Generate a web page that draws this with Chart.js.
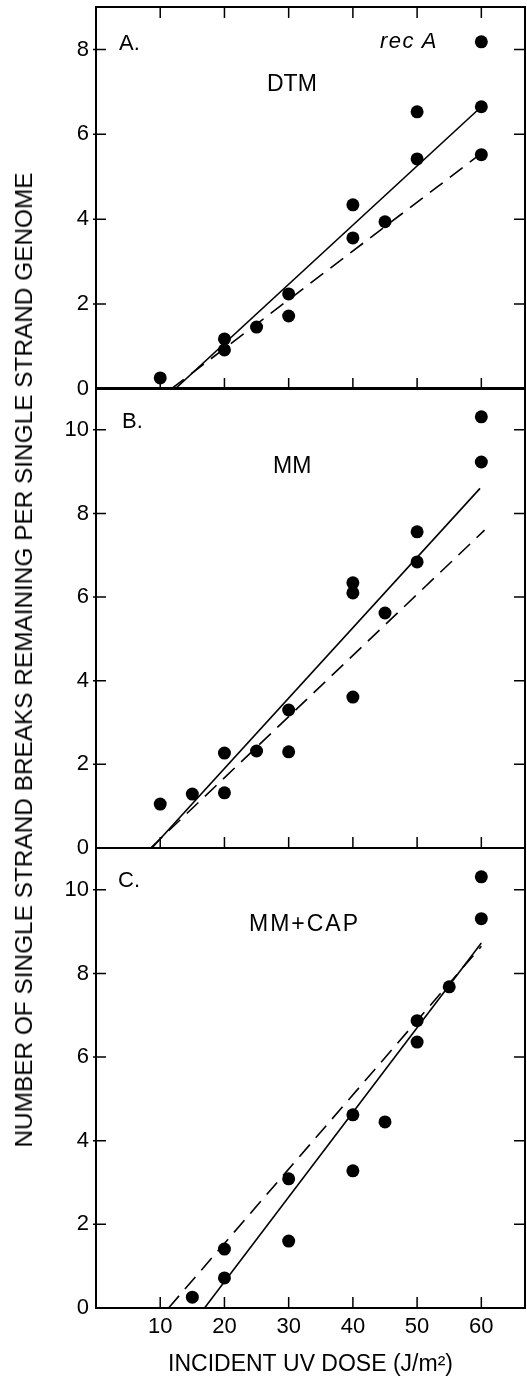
<!DOCTYPE html>
<html><head><meta charset="utf-8">
<script src="https://cdn.jsdelivr.net/npm/chart.js@4.4.0/dist/chart.umd.min.js"></script>
<style>
html,body{margin:0;padding:0;background:#fff;width:527px;height:1378px;overflow:hidden;position:relative;}
canvas{position:absolute;left:0;}
.lbl{position:absolute;font-family:"Liberation Sans",Arial,sans-serif;color:#000;white-space:nowrap;line-height:1;z-index:5;}
</style></head><body>
<canvas id="cA" width="527" height="410" style="top:0px"></canvas>
<canvas id="cB" width="527" height="500" style="top:370px"></canvas>
<canvas id="cC" width="527" height="548" style="top:830px"></canvas>
<div class="lbl" style="left:119px;top:32px;font-size:22px">A.</div>
<div class="lbl" style="left:380px;top:30px;font-size:22px;font-style:italic;letter-spacing:1.5px">rec A</div>
<div class="lbl" style="left:267px;top:72px;font-size:23px">DTM</div>
<div class="lbl" style="left:122px;top:410px;font-size:22px">B.</div>
<div class="lbl" style="left:273px;top:454px;font-size:23px">MM</div>
<div class="lbl" style="left:118px;top:869px;font-size:22px">C.</div>
<div class="lbl" style="left:249px;top:912px;font-size:23px;letter-spacing:2px">MM+CAP</div>
<div class="lbl" id="ytitle" style="font-size:24px">NUMBER OF SINGLE STRAND BREAKS REMAINING PER SINGLE STRAND GENOME</div>
<script>
// ---- data ----
const xTicks = [10, 20, 30, 40, 50, 60];
const yTicksA = [0, 2, 4, 6, 8];
const yTicksBC = [0, 2, 4, 6, 8, 10];

const doseA   = [10, 20, 20, 25, 30, 30, 40, 40, 45, 50, 50, 60, 60, 60];
const breaksA = [0.26, 0.92, 1.18, 1.46, 1.72, 2.24, 3.56, 4.34, 3.94, 5.42, 6.53, 5.52, 6.65, 8.18];
const solidAx = [12.3, 60], solidAy = [0, 6.65];
const dashAx  = [11.7, 60], dashAy  = [0, 5.55];

const doseB   = [10, 15, 20, 20, 25, 30, 30, 40, 40, 40, 45, 50, 50, 60, 60];
const breaksB = [1.05, 1.29, 1.32, 2.27, 2.32, 2.30, 3.30, 3.61, 6.10, 6.34, 5.62, 6.84, 7.56, 9.23, 10.31];
const solidBx = [8.7, 59.8], solidBy = [0, 8.6];
const dashBx  = [8.5, 60.5], dashBy  = [0, 7.6];

const doseC   = [15, 20, 20, 30, 30, 40, 40, 45, 50, 50, 55, 60, 60];
const breaksC = [0.26, 0.72, 1.41, 1.60, 3.09, 3.28, 4.62, 4.45, 6.36, 6.87, 7.68, 9.31, 10.31];
const solidCx = [16.9, 60], solidCy = [0, 8.73];
const dashCx  = [11.3, 60], dashCy  = [0, 8.65];

const xTitle = 'INCIDENT UV DOSE (J/m\u00B2)';

// ---- helpers ----
const FONT = '"Liberation Sans", Arial, sans-serif';
Chart.defaults.font.family = FONT;
Chart.defaults.color = '#000';
const pts = (xs, ys) => xs.map((v, i) => ({x: v, y: ys[i]}));
const noPad = s => { s.paddingTop = 0; s.paddingBottom = 0; s.paddingLeft = 0; s.paddingRight = 0; };

const framePlugin = {
  id: 'frame',
  afterDatasetsDraw(chart, args, opts) {
    const {ctx, chartArea: a, scales: {x, y}} = chart;
    ctx.save();
    ctx.strokeStyle = '#000';
    ctx.lineWidth = 2;
    ctx.strokeRect(a.left, a.top, a.right - a.left, a.bottom - a.top);
    ctx.lineWidth = 1.5;
    ctx.beginPath();
    for (const v of opts.yTicks) {
      if (v === 0) continue;
      const py = y.getPixelForValue(v);
      ctx.moveTo(a.left - 3, py); ctx.lineTo(a.left + 10, py);
      ctx.moveTo(a.right - 11, py); ctx.lineTo(a.right, py);
    }
    for (const v of xTicks) {
      const px = x.getPixelForValue(v);
      ctx.moveTo(px, a.bottom); ctx.lineTo(px, a.bottom - 11);
      if (opts.top) { ctx.moveTo(px, a.top); ctx.lineTo(px, a.top + 11); }
    }
    ctx.stroke();
    ctx.restore();
  }
};

function makePanel(id, dose, breaks, sx, sy, dx, dy, yMax, yTicks, opt) {
  const xAxis = {
    type: 'linear', min: 0, max: 66.8,
    display: !!opt.showX,
    grid: {display: false, drawTicks: false},
    border: {display: false},
    afterBuildTicks: s => { s.ticks = xTicks.map(v => ({value: v})); },
    ticks: {font: {size: 22}, padding: 6, maxRotation: 0, autoSkip: false},
    title: {display: !!opt.showX, text: xTitle, font: {size: 23}, padding: {top: 0, bottom: 0}},
    afterFit: s => { noPad(s); if (opt.showX) s.height = 70; }
  };
  return new Chart(document.getElementById(id), {
    type: 'scatter',
    data: {
      datasets: [
        {data: pts(dose, breaks), pointRadius: 6.5, pointHoverRadius: 6.5, backgroundColor: '#000', borderWidth: 0, showLine: false},
        {data: pts(sx, sy), showLine: true, borderColor: '#000', borderWidth: 1.6, pointRadius: 0, fill: false},
        {data: pts(dx, dy), showLine: true, borderColor: '#000', borderWidth: 1.6, borderDash: [16, 9], pointRadius: 0, fill: false}
      ]
    },
    options: {
      responsive: false, animation: false, events: [],
      layout: {padding: opt.padding, autoPadding: false},
      plugins: {legend: {display: false}, tooltip: {enabled: false}, frame: {yTicks: yTicks, top: !!opt.top}},
      scales: {
        x: xAxis,
        y: {
          type: 'linear', min: 0, max: yMax, position: 'left',
          grid: {display: false, drawTicks: false},
          border: {display: false},
          afterBuildTicks: s => { s.ticks = yTicks.map(v => ({value: v})); },
          ticks: {font: {size: 22}, padding: 7},
          afterFit: s => { noPad(s); s.width = 96; }
        }
      }
    },
    plugins: [framePlugin]
  });
}

makePanel('cA', doseA, breaksA, solidAx, solidAy, dashAx, dashAy, 9, yTicksA,
  {padding: {left: 0, right: 2, top: 7, bottom: 21}, top: true});
makePanel('cB', doseB, breaksB, solidBx, solidBy, dashBx, dashBy, 11, yTicksBC,
  {padding: {left: 0, right: 2, top: 18, bottom: 22}});
makePanel('cC', doseC, breaksC, solidCx, solidCy, dashCx, dashCy, 11, yTicksBC,
  {padding: {left: 0, right: 2, top: 18, bottom: 0}, showX: true});

// y-axis title, rotated, fitted to reference length
(function () {
  const el = document.getElementById('ytitle');
  const c = document.createElement('canvas').getContext('2d');
  c.font = '24px ' + FONT;
  const w = c.measureText(el.textContent).width;
  const f = 975 / w;
  el.style.left = '24px';
  el.style.top = '660px';
  el.style.transform = 'translate(-50%,-50%) rotate(-90deg) scaleX(' + f.toFixed(4) + ')';
})();
</script>
</body></html>
